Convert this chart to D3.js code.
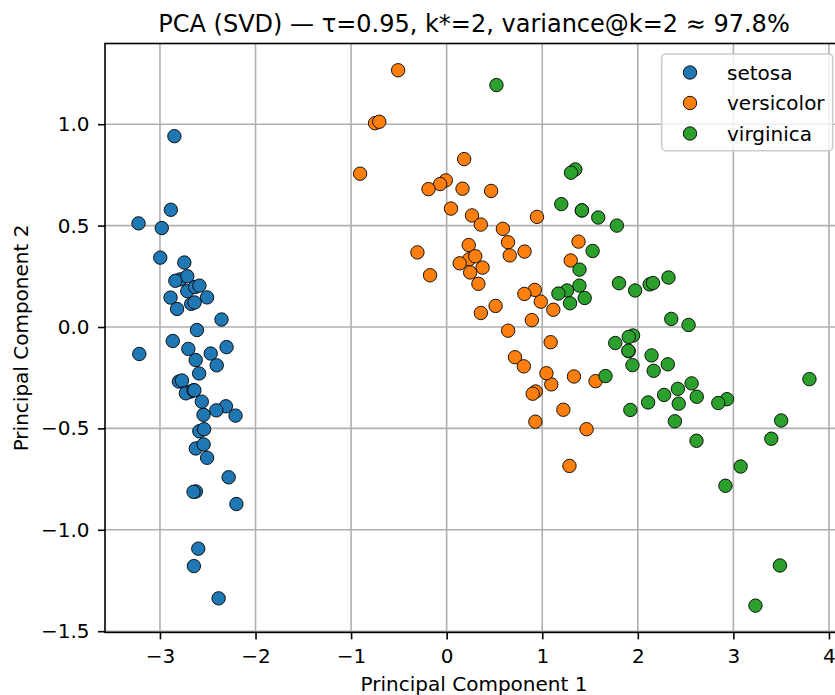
<!DOCTYPE html>
<html><head><meta charset="utf-8">
<script src="https://cdn.jsdelivr.net/npm/d3@7"></script>
<style>body{margin:0;background:#fff}svg{display:block;font-family:"DejaVu Sans",sans-serif}</style>
</head><body><div id="chart"></div>
<script>
const title = "PCA (SVD) — τ=0.95, k*=2, variance@k=2 ≈ 97.8%";
const categories = ["setosa","versicolor","virginica"];
const colors = ["#1f77b4","#ff7f0e","#2ca02c"];
const xTicks = [-3,-2,-1,0,1,2,3,4];
const yTicks = [-1.5,-1.0,-0.5,0.0,0.5,1.0];
const setosaPC1 = [-2.684,-2.714,-2.889,-2.745,-2.729,-2.281,-2.821,-2.626,-2.886,-2.673,-2.507,-2.613,-2.786,-3.224,-2.645,-2.386,-2.624,-2.648,-2.200,-2.588,-2.310,-2.544,-3.216,-2.303,-2.356,-2.507,-2.469,-2.562,-2.640,-2.632,-2.587,-2.410,-2.649,-2.599,-2.637,-2.866,-2.625,-2.801,-2.981,-2.590,-2.770,-2.849,-2.997,-2.406,-2.209,-2.714,-2.538,-2.839,-2.543,-2.703];
const setosaPC2 = [-0.319,0.177,0.145,0.318,-0.327,-0.741,0.089,-0.163,0.578,0.114,-0.645,-0.015,0.235,0.511,-1.179,-1.338,-0.811,-0.312,-0.873,-0.514,-0.391,-0.433,-0.133,-0.099,0.037,0.146,-0.131,-0.368,-0.312,0.197,0.204,-0.411,-0.813,-1.093,0.121,-0.069,-0.599,-0.269,0.488,-0.229,-0.264,0.941,0.342,-0.189,-0.437,0.250,-0.504,0.228,-0.579,-0.108];
const versicolorPC1 = [1.285,0.932,1.464,0.183,1.088,0.642,1.095,-0.749,1.044,-0.009,-0.508,0.512,0.265,0.985,-0.174,0.928,0.660,0.236,0.945,0.045,1.116,0.358,1.298,0.922,0.715,0.900,1.332,1.558,0.813,-0.306,-0.068,-0.190,0.136,1.380,0.588,0.807,1.221,0.815,0.246,0.166,0.465,0.891,0.231,-0.705,0.357,0.332,0.376,0.643,-0.906,0.299];
const versicolorPC2 = [-0.685,-0.318,-0.504,0.828,-0.075,0.418,-0.283,1.005,-0.228,0.723,1.266,0.104,0.550,0.125,0.255,-0.467,0.353,0.334,0.543,0.584,0.085,0.069,0.328,0.183,-0.149,-0.329,-0.244,-0.267,0.163,0.368,0.705,0.680,0.314,0.421,0.484,-0.194,-0.408,0.372,0.269,0.682,0.671,0.034,0.404,1.012,0.505,0.213,0.293,-0.018,0.756,0.349];
const virginicaPC1 = [2.531,1.415,2.617,1.972,2.350,3.397,0.521,2.933,2.321,2.917,1.662,1.803,2.166,1.346,1.586,1.904,1.950,3.487,3.796,1.301,2.428,1.199,3.500,1.389,2.275,2.614,1.259,1.291,2.124,2.388,2.842,3.231,2.159,1.444,1.781,3.076,2.144,1.905,1.169,2.108,2.314,1.922,1.415,2.563,2.419,1.944,1.527,1.764,1.901,1.390];
const virginicaPC2 = [0.010,0.575,-0.344,0.180,0.040,-0.551,1.193,-0.356,0.244,-0.783,-0.242,0.216,-0.216,0.777,0.540,-0.119,-0.042,-1.176,-0.257,0.761,-0.378,0.606,-0.461,0.204,-0.335,-0.561,0.180,0.117,0.210,-0.465,-0.375,-1.374,0.217,0.143,0.500,-0.688,-0.140,-0.049,0.165,-0.372,-0.184,-0.409,0.575,-0.278,-0.305,-0.188,0.375,-0.079,-0.117,0.283];
const seriesPC1 = [setosaPC1, versicolorPC1, virginicaPC1];
const seriesPC2 = [setosaPC2, versicolorPC2, virginicaPC2];

const W = 835, H = 695;
const m = {left:105, right:843, top:43.5, bottom:632.4};
const svg = d3.select("#chart").append("svg").attr("width",W).attr("height",H);
const x = d3.scaleLinear().domain([-3.575,4.147]).range([m.left,m.right]);
const y = d3.scaleLinear().domain([-1.506,1.398]).range([m.bottom,m.top]);

// grid
const g = svg.append("g");
g.selectAll(".gx").data(xTicks).enter().append("line")
  .attr("x1",d=>x(d)).attr("x2",d=>x(d)).attr("y1",m.top).attr("y2",m.bottom)
  .attr("stroke","#b0b0b0").attr("stroke-width",1.6);
g.selectAll(".gy").data(yTicks).enter().append("line")
  .attr("x1",m.left).attr("x2",m.right).attr("y1",d=>y(d)).attr("y2",d=>y(d))
  .attr("stroke","#b0b0b0").attr("stroke-width",1.6);

// points
categories.forEach((c,i)=>{
  const pts = seriesPC1[i].map((v,j)=>[v, seriesPC2[i][j]]);
  svg.append("g").selectAll("circle").data(pts).enter().append("circle")
    .attr("cx",d=>x(d[0])).attr("cy",d=>y(d[1])).attr("r",6.7)
    .attr("fill",colors[i]).attr("stroke","#000").attr("stroke-width",0.9);
});

// axes
const fmtX = d=> d<0 ? "\u2212"+Math.abs(d) : String(d);
const fmtY = d=> (d<0 ? "\u2212" : "") + Math.abs(d).toFixed(1);
const xa = svg.append("g").attr("transform",`translate(0,${m.bottom})`)
  .call(d3.axisBottom(x).tickValues(xTicks).tickFormat(fmtX).tickSize(7).tickPadding(9.5));
const ya = svg.append("g").attr("transform",`translate(${m.left},0)`)
  .call(d3.axisLeft(y).tickValues(yTicks).tickFormat(fmtY).tickSize(7).tickPadding(8.5));
[xa,ya].forEach(a=>{
  a.select(".domain").remove();
  a.selectAll("line").attr("stroke","#000").attr("stroke-width",1.6);
  a.selectAll("text").attr("font-size",20).attr("fill","#000").attr("font-family","DejaVu Sans");
});
// spines
svg.append("rect").attr("x",m.left).attr("y",m.top).attr("width",m.right-m.left).attr("height",m.bottom-m.top)
  .attr("fill","none").attr("stroke","#000").attr("stroke-width",1.6);

// labels
svg.append("text").attr("x",(m.left+m.right)/2).attr("y",31.5).attr("text-anchor","middle")
  .attr("font-size",24).text(title);
svg.append("text").attr("x",(m.left+m.right)/2).attr("y",691).attr("text-anchor","middle")
  .attr("font-size",20).text("Principal Component 1");
svg.append("text").attr("transform",`translate(28,${(m.top+m.bottom)/2}) rotate(-90)`).attr("text-anchor","middle")
  .attr("font-size",20).text("Principal Component 2");

// legend
const lg = svg.append("g");
lg.append("rect").attr("x",661.7).attr("y",54).attr("width",171).attr("height",96.7).attr("rx",4)
  .attr("fill","#fff").attr("fill-opacity",0.8).attr("stroke","#ccc").attr("stroke-width",1.6);
categories.forEach((c,i)=>{
  const yy = 72.5 + i*30.5;
  lg.append("circle").attr("cx",690).attr("cy",yy).attr("r",6.7).attr("fill",colors[i]).attr("stroke","#000").attr("stroke-width",0.9);
  lg.append("text").attr("x",727).attr("y",yy+7).attr("font-size",20).text(c);
});
</script></body></html>
